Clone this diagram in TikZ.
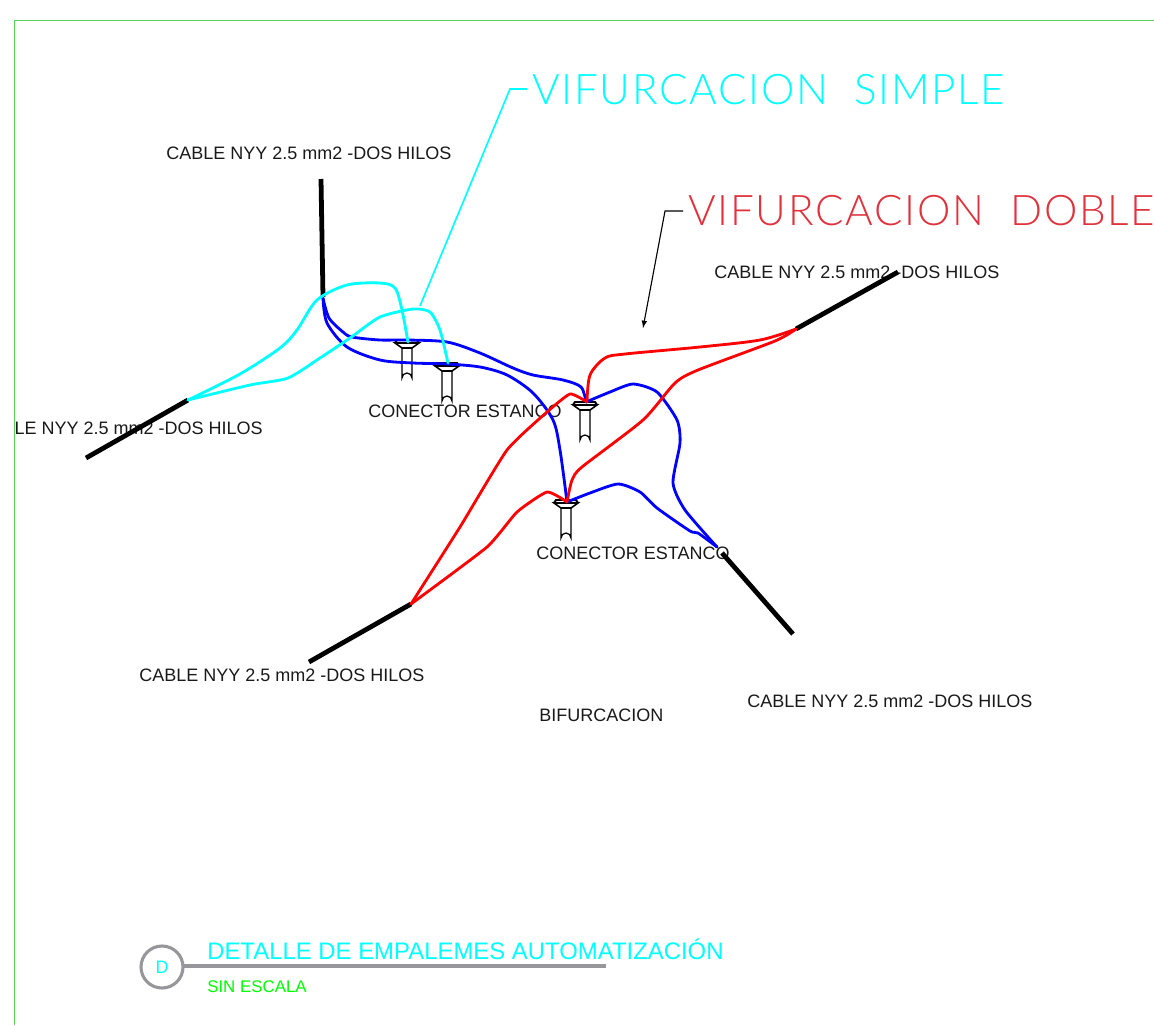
\documentclass[tikz,border=0pt]{standalone}
\usepackage{fontspec}
\usepackage{tikz}
\usepackage{xcolor}
\setmainfont{Liberation Sans}
\newfontfamily\thinfont[LetterSpace=4]{Lato Light}
\definecolor{cian}{RGB}{0,255,255}
\definecolor{rojo}{RGB}{255,0,0}
\definecolor{azul}{RGB}{0,0,255}
\definecolor{verde}{RGB}{0,255,0}
\definecolor{marco}{RGB}{90,210,90}
\definecolor{rojotxt}{RGB}{222,50,60}
\definecolor{gris}{RGB}{150,150,155}
\tikzset{
	cable/.style={line width=3.4pt,black},
	hilo/.style={line width=2pt,line join=round,line cap=round},
	etiqueta/.style={anchor=west,inner sep=0pt,font=\fontsize{12.8}{14}\selectfont,text=black!90},
	rotulo/.style={anchor=west,inner sep=0pt,font=\thinfont\fontsize{30}{32}\selectfont},
	pics/conector/.style={code={
		\draw[line width=0.9pt,fill=white] (-5,8) -- (-5,38) arc[start angle=180,end angle=360,radius=5] -- (5,8);
		\draw[line width=1.1pt,fill=white] (-5,8) -- (-12,3) -- (12,3) -- (5,8) -- cycle;
		\draw[line width=1.4pt] (-12,3) -- (-10,0) -- (10,0) -- (12,3);
	}}
}
\begin{document}
\begin{tikzpicture}[x=0.025cm,y=-0.025cm]
	\useasboundingbox (0,0) rectangle (1154,1025);
	\draw[marco,line width=0.7pt] (14,1025) -- (14,20) -- (1154,20);
	\node[etiqueta] (cableA) at (166,153) {CABLE NYY 2.5 mm2 -DOS HILOS};
	\node[etiqueta] (cableB) at (714,272) {CABLE NYY 2.5 mm2 -DOS HILOS};
	\node[etiqueta,anchor=east] (cableC) at (263,428) {LE NYY 2.5 mm2 -DOS HILOS};
	\node[etiqueta] (cableD) at (139,675) {CABLE NYY 2.5 mm2 -DOS HILOS};
	\node[etiqueta] (cableE) at (747,701) {CABLE NYY 2.5 mm2 -DOS HILOS};
	\node[etiqueta] (conectorA) at (368,411) {CONECTOR ESTANCO};
	\node[etiqueta] (conectorB) at (536,553) {CONECTOR ESTANCO};
	\node[etiqueta] (bifurcacion) at (539,715) {BIFURCACION};
	\node[rotulo,text=cian] (simple) at (532,90) {VIFURCACION\ \ SIMPLE};
	\node[rotulo,text=rojotxt] (doble) at (688,211) {VIFURCACION\ \ DOBLE};
	\coordinate (simpleFin) at (420,306);
	\coordinate (dobleFin) at (643,328);
	\draw[cian,line width=1.2pt] (527,89) -- (510,89) -- (simpleFin);
	\draw[black,line width=0.8pt,-latex] (683,211) -- (665,211) -- (dobleFin);
	\draw[cable] (321,179) -- (323,297);
	\draw[cable] (188,400) -- (86,458);
	\draw[cable] (411,604) -- (309,662);
	\draw[cable] (796,329) -- (898,272);
	\draw[cable] (722,553) -- (793,634);
	\pic at (407,340) {conector};
	\pic at (447,363) {conector};
	\pic at (585,402) {conector};
	\pic at (566,500) {conector};
	\draw[hilo,azul] plot[smooth,tension=0.5] coordinates {(323,298) (329,318) (343,332) (352,337) (380,340) (407,340) (447,342) (480,353) (513,368) (533,375) (563,380) (581,387) (586,402)};
	\draw[hilo,azul] plot[smooth,tension=0.5] coordinates {(323,298) (327,323) (347,347) (380,360) (413,363) (447,364) (480,367) (507,375) (533,393) (553,420) (560,450) (567,502)};
	\draw[hilo,azul] plot[smooth,tension=0.4] coordinates {(586,402) (610,392) (633,384) (657,392) (677,420) (680,443) (673,483) (685,510) (717,547)};
	\draw[hilo,azul] plot[smooth,tension=0.4] coordinates {(567,502) (590,493) (618,484) (640,492) (657,508) (690,531) (698,533) (717,547)};
	\draw[hilo,cian] plot[smooth,tension=0.5] coordinates {(188,400) (240,374) (280,348) (297,330) (317,300) (347,285) (380,283) (395,288) (402,310) (408,342)};
	\draw[hilo,cian] plot[smooth,tension=0.4] coordinates {(188,400) (250,385) (288,378) (320,358) (350,338) (380,317) (413,309) (430,312) (440,330) (448,363)};
	\draw[hilo,rojo] plot[smooth,tension=0.3] coordinates {(411,604) (460,527) (507,450) (547,412) (570,394) (587,402)};
	\draw[hilo,rojo] plot[smooth,tension=0.3] coordinates {(411,604) (487,547) (517,512) (547,492) (567,502)};
	\draw[hilo,rojo] plot[smooth,tension=0.5] coordinates {(587,402) (590,375) (605,358) (625,354) (700,347) (760,340) (796,329)};
	\draw[hilo,rojo] plot[smooth,tension=0.4] coordinates {(567,502) (572,480) (582,467) (643,420) (675,383) (698,370) (775,341) (796,329)};
	\node[inner sep=0pt,text=cian,font=\fontsize{12.8}{14}\selectfont] (letra) at (162,967) {D};
	\draw[gris,line width=2.2pt] (162,967) circle[radius=21];
	\coordinate (lineaIni) at (183,966);
	\coordinate (lineaFin) at (606,966);
	\draw[gris,line width=2.2pt] (lineaIni) -- (lineaFin);
	\node[anchor=west,inner sep=0pt,text=cian,font=\fontsize{17}{19}\selectfont] (titulo) at (207,949) {DETALLE DE EMPALEMES AUTOMATIZACIÓN};
	\node[anchor=west,inner sep=0pt,text=verde,font=\fontsize{12}{14}\selectfont] (escala) at (207,987) {SIN ESCALA};
\end{tikzpicture}
\end{document}
